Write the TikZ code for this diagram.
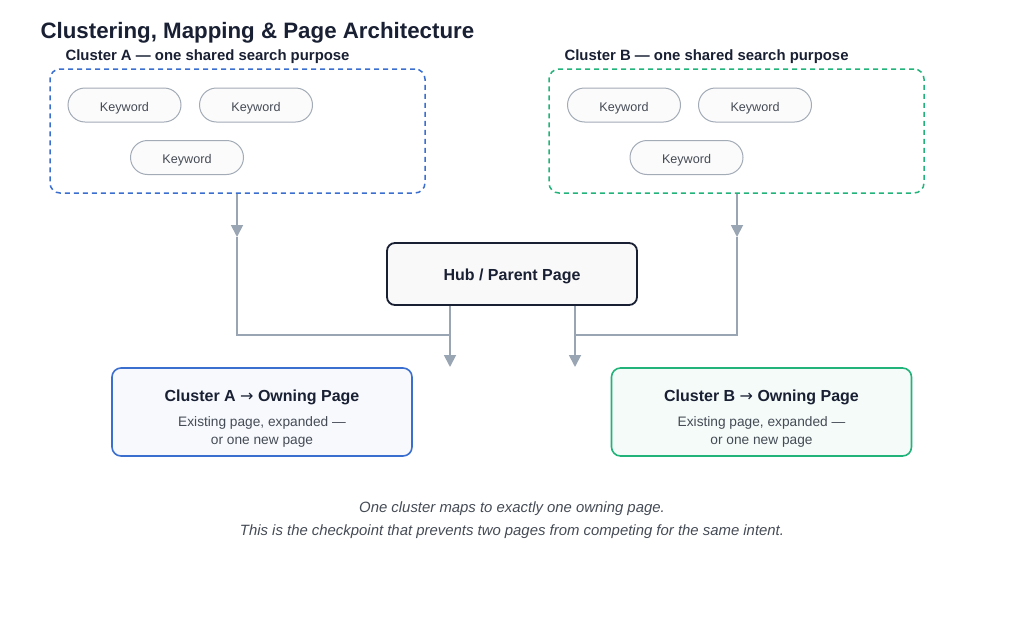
\documentclass[tikz,border=0pt]{standalone}
\usepackage{fontspec}
\setmainfont{Liberation Sans}
\newfontfamily\arr{DejaVu Sans}
\usetikzlibrary{arrows.meta}
\definecolor{ink}{HTML}{1A2033}
\definecolor{blu}{HTML}{3A6FD0}
\definecolor{grn}{HTML}{22B37A}
\definecolor{con}{HTML}{9AA5B4}
\definecolor{pill}{HTML}{A3ABB6}
\definecolor{txt}{HTML}{454B55}
\begin{document}
\begin{tikzpicture}[x=1pt,y=-1pt,
 cl/.style={draw,dashed,dash pattern=on 5pt off 4pt,line width=1.5pt,rounded corners=10pt},
 kw/.style={draw=pill,fill=gray!3,line width=1pt,rounded corners=17pt,minimum width=113pt,minimum height=34pt,text depth=0pt,text height=12.5pt,font=\fontsize{12.6}{14}\selectfont,text=txt},
 own/.style={line width=1.6pt,rounded corners=9pt,minimum width=300pt,minimum height=88pt},
 conn/.style={draw=con,line width=1.8pt},
 tip/.style={-{Triangle[length=12pt,width=12pt]}}]
\useasboundingbox (0,0) rectangle (1024,624);
\node[anchor=base west,font=\fontsize{22.3}{26}\selectfont\bfseries,text=ink] (title) at (37,38) {Clustering, Mapping \& Page Architecture};
% clusters
\node[anchor=base west,font=\fontsize{14.9}{17}\selectfont\bfseries,text=ink] (la) at (62,60) {Cluster A — one shared search purpose};
\node[cl,draw=blu,minimum width=375pt,minimum height=124pt] (ca) at (237.5,131) {};
\node[kw] (ka1) at (124.5,105) {Keyword};
\node[kw] (ka2) at (256,105) {Keyword};
\node[kw] (ka3) at (187,157.5) {Keyword};
\node[anchor=base west,font=\fontsize{14.9}{17}\selectfont\bfseries,text=ink] (lb) at (561,60) {Cluster B — one shared search purpose};
\node[cl,draw=grn,minimum width=375pt,minimum height=124pt] (cb) at (736.5,131) {};
\node[kw] (kb1) at (624,105) {Keyword};
\node[kw] (kb2) at (755,105) {Keyword};
\node[kw] (kb3) at (686.5,157.5) {Keyword};
% hub
\node[draw=ink,fill=gray!5,line width=1.8pt,rounded corners=8pt,minimum width=250pt,minimum height=62pt] (hub) at (512,274) {};
\node[font=\fontsize{16}{18}\selectfont\bfseries,text=ink] (hubt) at (512,276) {Hub / Parent Page};
% owning
\node[own,draw=blu,fill=blu!4] (oa) at (262,412) {};
\node[font=\fontsize{16}{18}\selectfont\bfseries,text=ink] (oat) at (262,397) {Cluster A {\arr\mdseries\fontsize{16}{17}\selectfont→} Owning Page};
\node[font=\fontsize{13.7}{18}\selectfont,text=txt,align=center] (oas) at (262,432) {Existing page, expanded —\\or one new page};
\node[own,draw=grn,fill=grn!5] (ob) at (761.5,412) {};
\node[font=\fontsize{16}{18}\selectfont\bfseries,text=ink] (obt) at (761.5,397) {Cluster B {\arr\mdseries\fontsize{16}{17}\selectfont→} Owning Page};
\node[font=\fontsize{13.7}{18}\selectfont,text=txt,align=center] (obs) at (761.5,432) {Existing page, expanded —\\or one new page};
% connectors
\coordinate (ma) at (237,237); \coordinate (mb) at (737,237);
\coordinate (ja) at (450,335); \coordinate (jb) at (575,335);
\coordinate (ea) at (450,367); \coordinate (eb) at (575,367);
\draw[conn,tip] (ca.south -| ma) -- (ma);
\draw[conn] (ma) |- (ja);
\draw[conn,tip] (hub.south -| ea) -- (ea);
\draw[conn,tip] (cb.south -| mb) -- (mb);
\draw[conn] (mb) |- (jb);
\draw[conn,tip] (hub.south -| eb) -- (eb);
% caption
\node[font=\fontsize{14.9}{17}\selectfont\itshape,text=txt] (c1) at (512,509) {One cluster maps to exactly one owning page.};
\node[font=\fontsize{14.9}{17}\selectfont\itshape,text=txt] (c2) at (512,532) {This is the checkpoint that prevents two pages from competing for the same intent.};
\end{tikzpicture}
\end{document}
